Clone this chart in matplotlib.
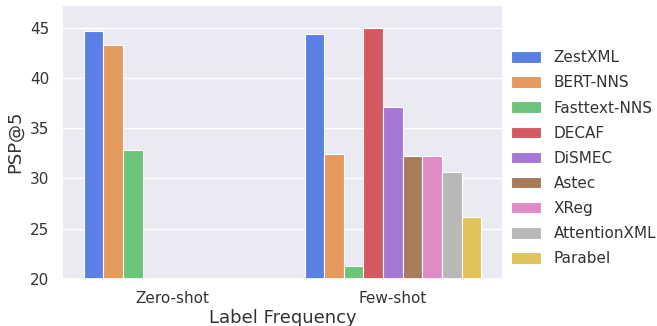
import matplotlib
matplotlib.use("Agg")
import matplotlib.pyplot as plt
import seaborn as sns
import numpy as np
import pandas as pd

groups = ["Zero-shot", "Few-shot"]
methods = ["ZestXML", "BERT-NNS", "Fasttext-NNS", "DECAF", "DiSMEC", "Astec", "XReg", "AttentionXML", "Parabel"]
zero_shot = [44.7, 43.3, 32.8, np.nan, np.nan, np.nan, np.nan, np.nan, np.nan]
few_shot = [44.4, 32.4, 21.3, 45.0, 37.1, 32.2, 32.2, 30.6, 26.2]
colors = ["#5B7FE5", "#E49A5C", "#6AC47A", "#D45A62", "#A777D6", "#A87B5A", "#E08AC6", "#B8B8B8", "#E2C25A"]

sns.set_theme(style="darkgrid")
plt.rcParams['font.family'] = ['DejaVu Sans']

fig = plt.figure(figsize=(6.57, 3.26), dpi=100)
ax = fig.add_axes([0.094, 0.145, 0.672, 0.84])

n = len(methods)
w = 0.8 / n
x = np.arange(len(groups))
for i, m in enumerate(methods):
    vals = [zero_shot[i], few_shot[i]]
    ax.bar(x - 0.4 + w * (i + 0.5), np.nan_to_num(np.array(vals) - 20, nan=0), width=w, bottom=20,
           color=colors[i], edgecolor="white", linewidth=0.8, label=m)

ax.set_xlim(-0.5, 1.5)
ax.set_ylim(20, 47.3)
ax.set_yticks([20, 25, 30, 35, 40, 45])
ax.set_xticks(x)
ax.set_xticklabels(groups)
ax.grid(False, axis='x')
ax.tick_params(axis='both', labelsize=11, colors='#333333', pad=3)
ax.set_ylabel("PSP@5", fontsize=13, color='#333333')
ax.set_xlabel("Label Frequency", fontsize=13, color='#333333', labelpad=2)
leg = ax.legend(loc='center left', bbox_to_anchor=(1.0, 0.44), frameon=False, fontsize=11,
                labelspacing=0.66, handlelength=2.0, handleheight=0.8, handletextpad=0.8,
                borderaxespad=0.2, borderpad=0.3)
for t in leg.get_texts():
    t.set_color('#333333')
fig.savefig("out.png", dpi=100)
